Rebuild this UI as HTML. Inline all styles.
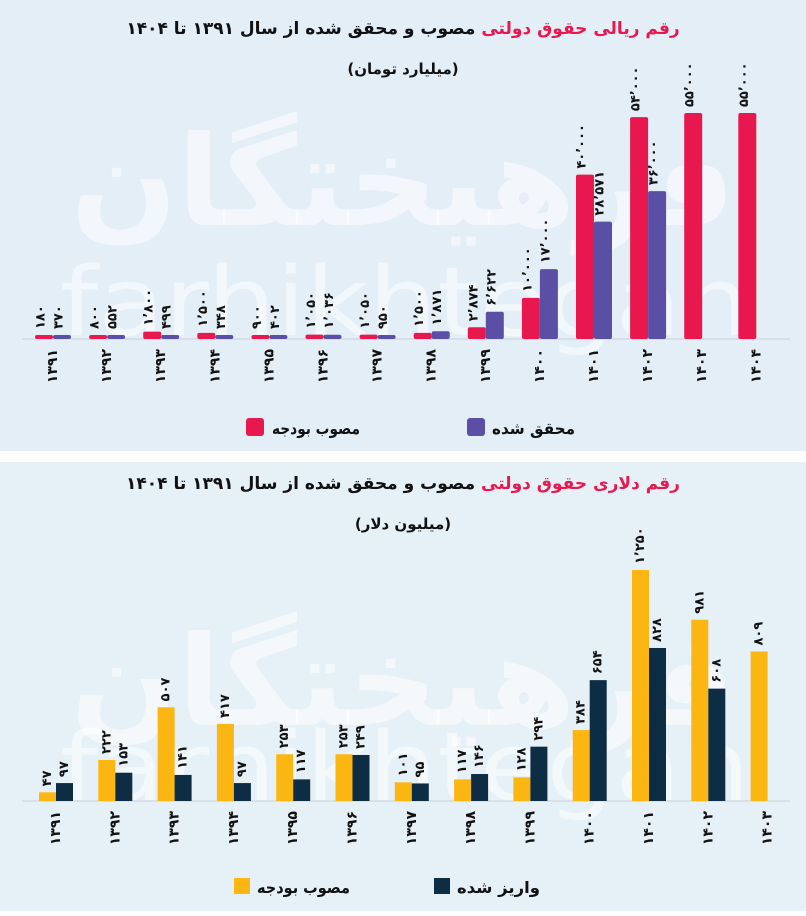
<!DOCTYPE html>
<html><head><meta charset="utf-8">
<style>
html,body{margin:0;padding:0;background:#fff;}
body{width:806px;height:911px;overflow:hidden;font-family:"Liberation Sans","Noto Sans CJK SC",sans-serif;}
svg text{font-family:"DejaVu Sans","Liberation Sans",sans-serif;}
</style></head>
<body>
<svg id="chart" width="806" height="911" viewBox="0 0 806 911" xmlns="http://www.w3.org/2000/svg">
  <rect x="0" y="0" width="806" height="451" fill="#e4eef6"/>
  <rect x="0" y="462" width="806" height="449" fill="#e6f0f7"/>
  <!-- watermarks -->
  <text x="403" y="225" text-anchor="middle" font-size="125" font-weight="bold" fill="#ffffff" fill-opacity="0.55">فرهیختگان</text>
  <text x="60" y="335" textLength="690" lengthAdjust="spacingAndGlyphs" font-size="95" fill="#ffffff" fill-opacity="0.5">farhikhtegan</text>
  <text x="403" y="725" text-anchor="middle" font-size="125" font-weight="bold" fill="#ffffff" fill-opacity="0.55">فرهیختگان</text>
  <text x="60" y="800" textLength="690" lengthAdjust="spacingAndGlyphs" font-size="95" fill="#ffffff" fill-opacity="0.5">farhikhtegan</text>

  <text x="403" y="34" text-anchor="middle" font-size="17" font-weight="bold" direction="rtl"><tspan fill="#e8184f">رقم ریالی حقوق دولتی</tspan><tspan fill="#111"> مصوب و محقق شده از سال ۱۳۹۱ تا ۱۴۰۴</tspan></text>
  <text x="403" y="74" text-anchor="middle" font-size="15" font-weight="bold" fill="#111">(میلیارد تومان)</text>

  <text x="403" y="489" text-anchor="middle" font-size="17" font-weight="bold" direction="rtl"><tspan fill="#e8184f">رقم دلاری حقوق دولتی</tspan><tspan fill="#111"> مصوب و محقق شده از سال ۱۳۹۱ تا ۱۴۰۴</tspan></text>
  <text x="403" y="529" text-anchor="middle" font-size="15" font-weight="bold" fill="#111">(میلیون دلار)</text>

  <line x1="22" y1="339" x2="790" y2="339" stroke="#c8d0d8" stroke-width="1"/>
  <line x1="22" y1="801" x2="790" y2="801" stroke="#c8d0d8" stroke-width="1"/>

  <g id="top"></g>
  <g id="bottom"></g>

  <!-- legends -->
  <rect x="246" y="418" width="18" height="18" rx="3" fill="#e8184f"/>
  <text x="272" y="434" textLength="88" lengthAdjust="spacingAndGlyphs" font-size="16" font-weight="bold" fill="#111">مصوب بودجه</text>
  <rect x="467" y="418" width="18" height="18" rx="3" fill="#5b4ea5"/>
  <text x="492" y="434" textLength="83" lengthAdjust="spacingAndGlyphs" font-size="16" font-weight="bold" fill="#111">محقق شده</text>
  <rect x="234" y="878" width="16" height="16" fill="#fbb612"/>
  <text x="257" y="893" textLength="93" lengthAdjust="spacingAndGlyphs" font-size="16" font-weight="bold" fill="#111">مصوب بودجه</text>
  <rect x="434" y="878" width="16" height="16" fill="#0d2d45"/>
  <text x="457" y="893" textLength="83" lengthAdjust="spacingAndGlyphs" font-size="16" font-weight="bold" fill="#111">واریز شده</text>
</svg>
<script>
const topYears = ["1391","1392","1393","1394","1395","1396","1397","1398","1399","1400","1401","1402","1403","1404"];
const topApproved = [180,800,1800,1500,900,1050,1050,1500,2874,10000,40000,54000,55000,55000];
const topActual = [370,552,499,348,402,1036,950,1871,6622,17000,28571,36000,null,null];
const botYears = ["1391","1392","1393","1394","1395","1396","1397","1398","1399","1400","1401","1402","1403"];
const botApproved = [47,222,507,417,253,253,101,117,128,384,1250,981,809];
const botPaid = [97,153,141,97,117,249,95,146,294,654,828,608,null];

const NS = "http://www.w3.org/2000/svg";
function fa(n){return String(n).replace(/\d/g,d=>"۰۱۲۳۴۵۶۷۸۹"[d]);}
function fmt(n){let s=String(n); if(n>=1000){s=s.replace(/\B(?=(\d{3})+(?!\d))/g,"٬");} return fa(s);}
function mk(tag,attrs,parent){const e=document.createElementNS(NS,tag);for(const k in attrs)e.setAttribute(k,attrs[k]);parent.appendChild(e);return e;}

function drawChart(g, years, a, b, cfg){
  const x = i => cfg.x0 + i*cfg.step;
  const y = v => cfg.base - v*cfg.scale;
  years.forEach((yr,i)=>{
    const cx = x(i);
    const lab = mk("text",{x:cx, y:cfg.base+10, "text-anchor":"end", "dominant-baseline":"central", "font-size":"14", "font-weight":"bold", fill:"#111", transform:`rotate(-90 ${cx} ${cfg.base+10})`}, g);
    
    
    lab.textContent = fa(yr);
    if(a[i]!=null){
      const h = Math.max(cfg.base - y(a[i]), cfg.minH);
      const r = mk("rect",{x:cx-cfg.w, y:cfg.base-h, width:cfg.w, height:h, fill:cfg.c1, rx:cfg.rx}, g);
      
      
      const lx = cx-cfg.w/2-cfg.lo, ly = cfg.base-h-6;
      const t = mk("text",{x:lx, y:ly, "text-anchor":"start", "dominant-baseline":"central", "font-size":"13", "font-weight":"bold", fill:"#111", transform:`rotate(-90 ${lx} ${ly})`}, g);
      
      
      t.textContent = fmt(a[i]);
    }
    if(b[i]!=null){
      const h = Math.max(cfg.base - y(b[i]), cfg.minH);
      const r = mk("rect",{x:cx, y:cfg.base-h, width:cfg.w, height:h, fill:cfg.c2, rx:cfg.rx}, g);
      
      
      const lx = cx+cfg.w/2-cfg.lo, ly = cfg.base-h-6;
      const t = mk("text",{x:lx, y:ly, "text-anchor":"start", "dominant-baseline":"central", "font-size":"13", "font-weight":"bold", fill:"#111", transform:`rotate(-90 ${lx} ${ly})`}, g);
      
      
      t.textContent = fmt(b[i]);
    }
  });
}
drawChart(document.getElementById("top"), topYears, topApproved, topActual,
  {x0:53, step:54.1, base:339, scale:226/55000, w:18, c1:"#e8184f", c2:"#5b4ea5", rx:2, lo:3, minH:4});
drawChart(document.getElementById("bottom"), botYears, botApproved, botPaid,
  {x0:56, step:59.3, base:801, scale:231/1250, w:17, c1:"#fbb612", c2:"#0d2d45", rx:0, lo:0, minH:3});
</script>
</body></html>
